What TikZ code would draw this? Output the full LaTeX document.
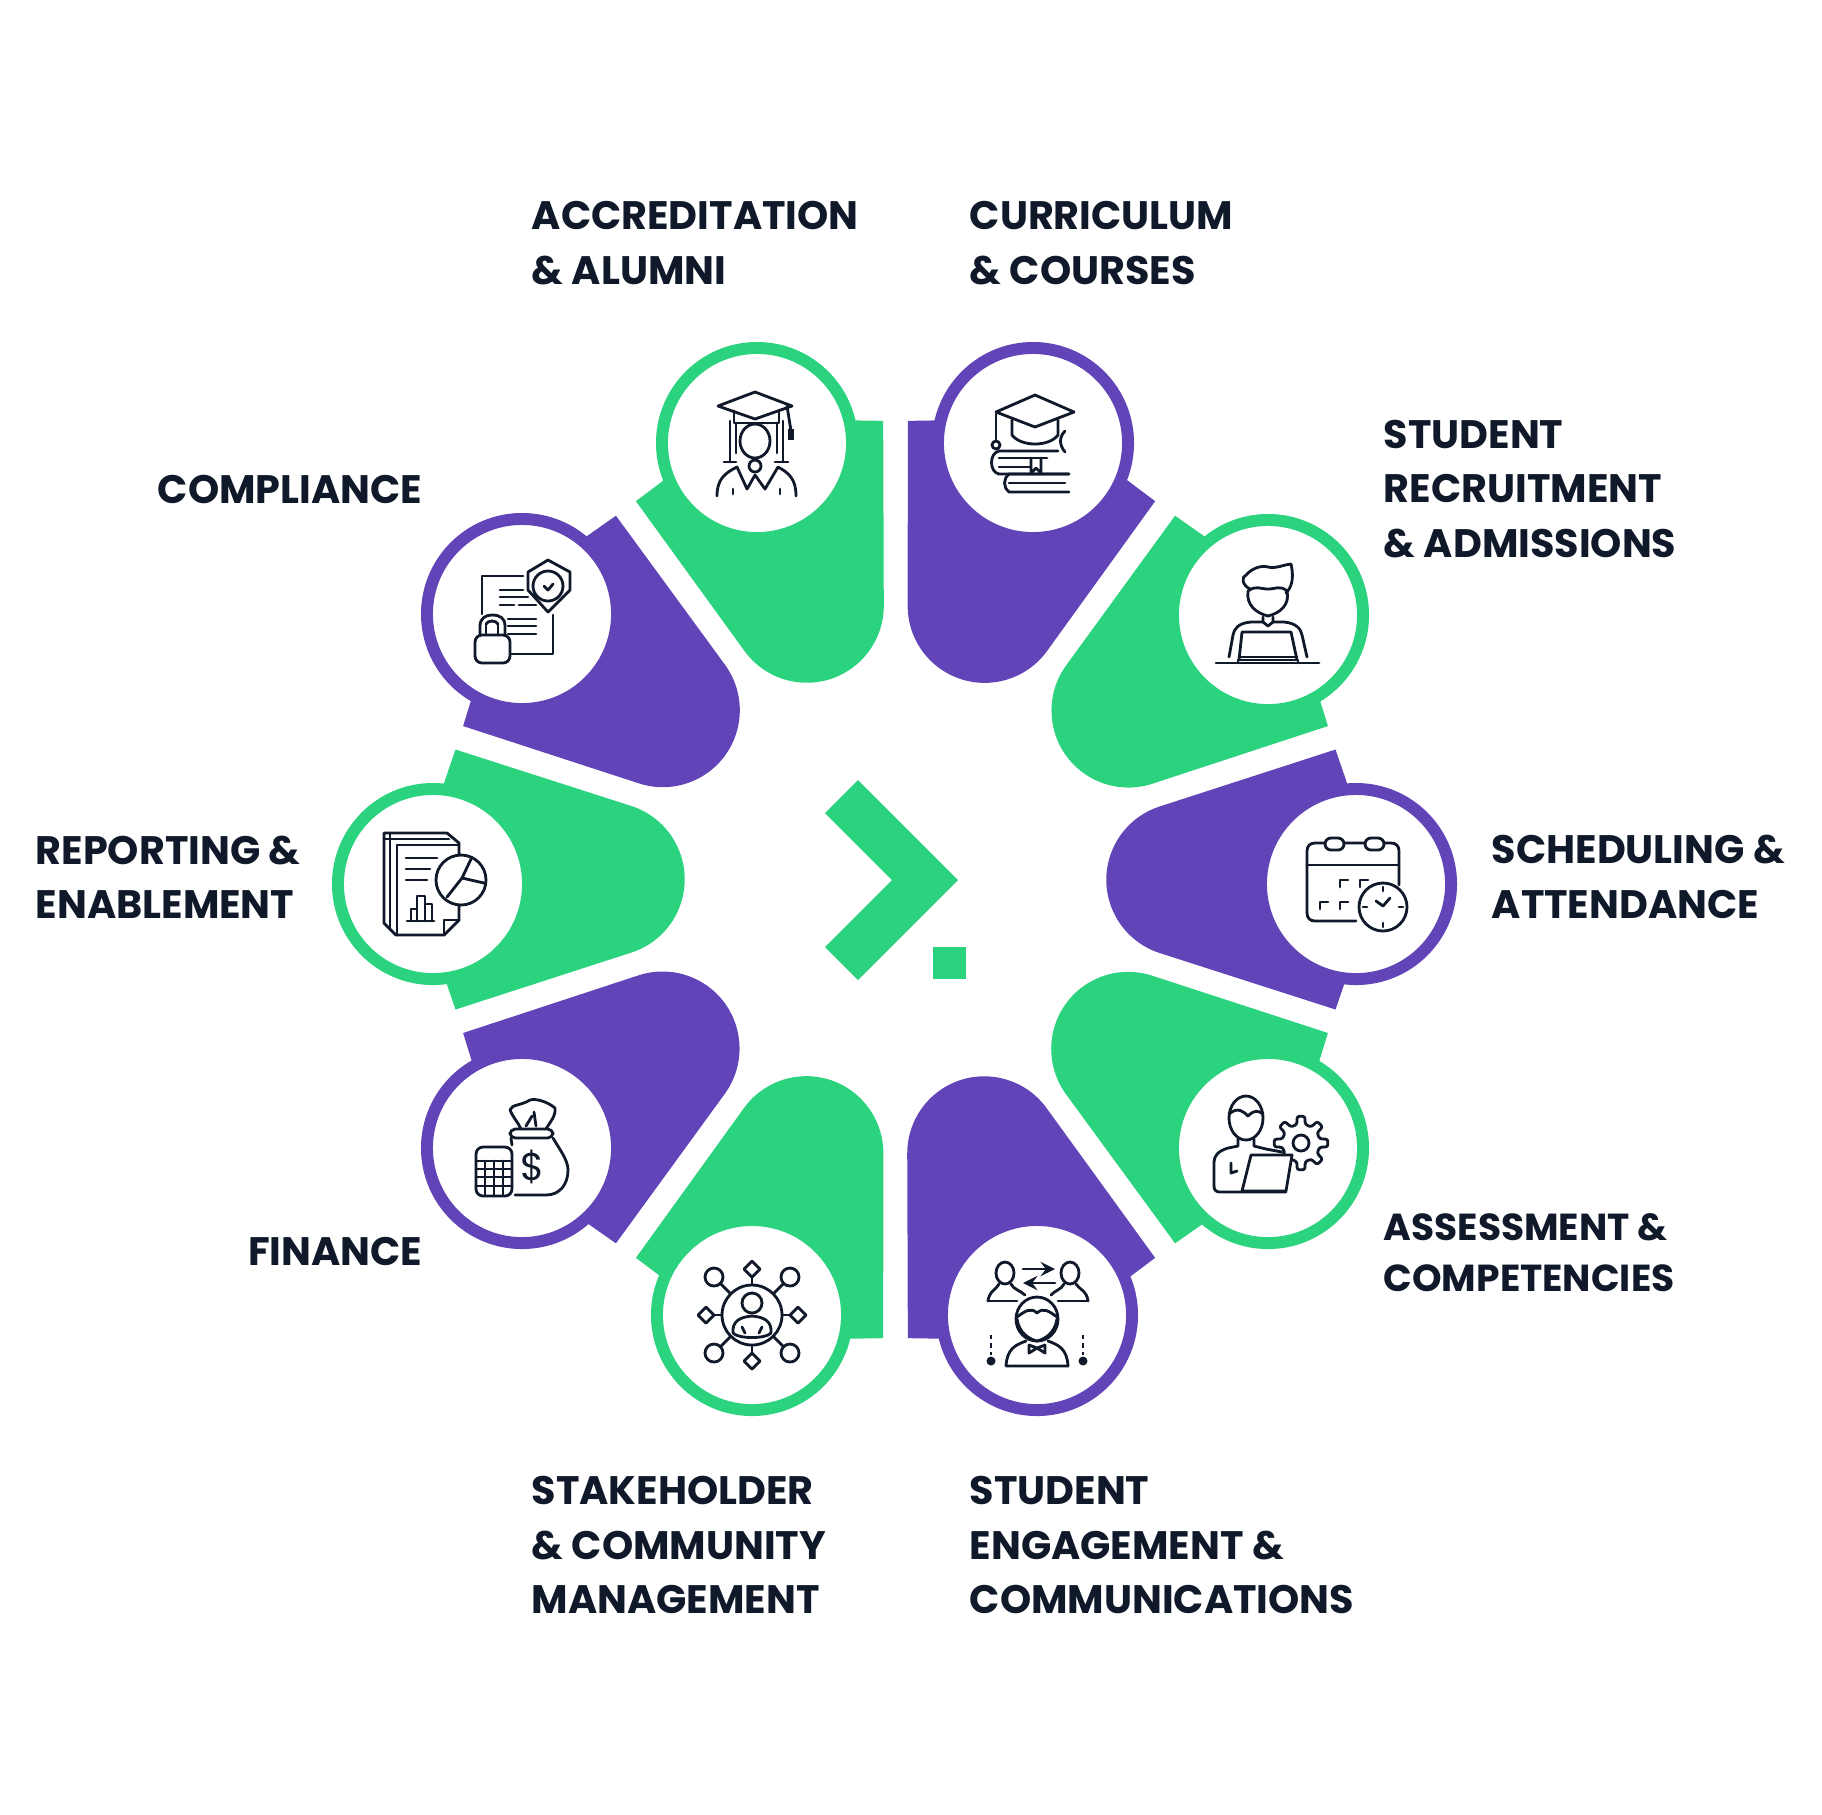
\documentclass[tikz,border=0pt]{standalone}
\usepackage{fontspec}
\setmainfont{Poppins}
\usetikzlibrary{calc}
\definecolor{gpetal}{RGB}{43,211,127}
\definecolor{ppetal}{RGB}{97,69,184}
\definecolor{ink}{RGB}{16,25,42}
\newcommand{\lblsize}{\fontsize{11.3}{15.5}\selectfont\bfseries}
\newcommand{\petal}[2]{\fill[#2,shift={(org)},rotate=#1] (440,130) -- (264,73) arc (108:252:77) -- (440,-130) -- (452,-95) -- (461,0) -- (452,95) -- cycle;}
\tikzset{
  ring/.style={circle,fill=white,line width=3.4pt,minimum size=1.9cm,inner sep=0pt,outer sep=0pt},
  gring/.style={ring,draw=gpetal},
  pring/.style={ring,draw=ppetal},
  lbl/.style={font=\lblsize,align=left,inner sep=0pt,text=ink},
  icon/.style={draw=ink,line width=0.8pt,line join=round,line cap=round},
  logo/.style={fill=gpetal}
}
\begin{document}
\begin{tikzpicture}[x=0.01cm,y=0.01cm]
  \useasboundingbox (0,0) rectangle (1822,-1814);
  \coordinate (org) at (895.5,-879.5);

  \petal{0}{ppetal}
  \petal{36}{gpetal}
  \petal{72}{ppetal}
  \petal{108}{gpetal}
  \petal{144}{ppetal}
  \petal{180}{gpetal}
  \petal{216}{ppetal}
  \petal{252}{gpetal}
  \petal{288}{ppetal}
  \petal{324}{gpetal}

  \node [gring] (acc) at (757,-443) {};
  \node [pring] (cur) at (1033,-443) {};
  \node [gring] (rec) at (1268,-615) {};
  \node [pring] (sch) at (1356,-884) {};
  \node [gring] (ass) at (1268,-1148) {};
  \node [pring] (eng) at (1037,-1315) {};
  \node [gring] (sta) at (752,-1315) {};
  \node [pring] (fin) at (522,-1148) {};
  \node [gring] (rep) at (433,-884) {};
  \node [pring] (com) at (522,-614) {};

  \node [lbl,anchor=west] (l-acc) at (531,-243) {ACCREDITATION\\\& ALUMNI};
  \node [lbl,anchor=west] (l-cur) at (969,-243) {CURRICULUM\\\& COURSES};
  \node [lbl,anchor=west] (l-rec) at (1383,-489) {STUDENT\\RECRUITMENT\\\& ADMISSIONS};
  \node [lbl,anchor=east] (l-com) at (423,-489) {COMPLIANCE};
  \node [lbl,anchor=west] (l-rep) at (35,-877) {REPORTING \&\\ENABLEMENT};
  \node [lbl,anchor=west] (l-sch) at (1491,-877) {SCHEDULING \&\\ATTENDANCE};
  \node [lbl,anchor=west,font=\fontsize{10.7}{14.5}\selectfont\bfseries] (l-ass) at (1383,-1253) {ASSESSMENT \&\\COMPETENCIES};
  \node [lbl,anchor=east] (l-fin) at (423,-1251) {FINANCE};
  \node [lbl,anchor=west] (l-sta) at (531,-1545) {STAKEHOLDER\\\& COMMUNITY\\MANAGEMENT};
  \node [lbl,anchor=west] (l-eng) at (969,-1545) {STUDENT\\ENGAGEMENT \&\\COMMUNICATIONS};

  % logo
  \fill[logo] (858,-780) -- (958,-880) -- (858,-980) -- (825,-947) -- (892,-880) -- (825,-813) -- cycle;
  \fill[logo] (933,-947) rectangle (966,-979);

  % graduate
  \begin{scope}[shift={(acc.center)},icon]
    \draw (-2,51) -- (-39,37) -- (-2,24) -- (35,37) -- cycle;
    \draw (-23,32) -- (-23,20) -- (22,20) -- (22,32);
    \draw (30,37) -- (34,12);
    \fill[ink] (31,14) rectangle (37,3);
    \draw (-27,22) -- (-27,-19) (26,22) -- (26,-19) (-21,20) -- (-21,-10) (20,20) -- (20,-10);
    \draw (-2,2) ellipse (15 and 17);
    \draw (-33,-19) -- (-21,-19) (18,-19) -- (31,-19);
    \draw (-2,-23) circle (6);
    \draw (-40,-53) .. controls (-40,-36) and (-32,-30) .. (-20,-24) -- (-10,-46) -- (-2,-32) -- (8,-46) -- (21,-24) .. controls (32,-30) and (39,-36) .. (39,-53);
    \draw (-24,-46) -- (-24,-51) (23,-46) -- (23,-51);
  \end{scope}

  % books
  \begin{scope}[shift={(cur.center)},icon]
    \draw (2,48) -- (-37,31) -- (2,16) -- (41,31) -- cycle;
    \draw (-21,23) -- (-21,8) .. controls (-12,-4) and (16,-4) .. (25,8) -- (25,23);
    \draw (-37,29) -- (-37,3);
    \draw (-37,-2) circle (4);
    \draw (25,-8) -- (-34,-8) .. controls (-44,-10) and (-44,-29) .. (-34,-31) -- (36,-31);
    \draw (-34,-15) -- (14,-15) (-34,-24) -- (-2,-24);
    \draw (-2,-15) -- (-2,-30) -- (3,-25) -- (8,-30) -- (8,-15);
    \draw (36,-31) -- (-24,-31) .. controls (-30,-36) and (-30,-44) .. (-24,-49) -- (36,-49);
    \draw (-24,-40) -- (32,-40);
    \draw (32,12) .. controls (26,6) and (26,-2) .. (32,-9);
  \end{scope}

  % student with laptop
  \begin{scope}[shift={(rec.center)},icon]
    \draw (-52,-48) -- (51,-48);
    \draw (-18,26) .. controls (-26,30) and (-27,38) .. (-22,40) .. controls (-16,47) and (-6,50) .. (0,48) .. controls (8,46) and (14,50) .. (23,51) .. controls (25,42) and (26,30) .. (18,22);
    \draw (-20,24) .. controls (-22,10) and (-12,2) .. (0,-1) .. controls (12,2) and (22,10) .. (19,24) .. controls (12,30) and (8,26) .. (0,26) .. controls (-8,26) and (-12,30) .. (-20,24);
    \draw (-5,-2) -- (-5,-7) -- (-17,-7) .. controls (-30,-8) and (-34,-14) .. (-35,-20) -- (-39,-42);
    \draw (5,-2) -- (5,-7) -- (16,-7) .. controls (28,-8) and (33,-14) .. (34,-20) -- (39,-42);
    \draw (-5,-7) -- (0,-11) -- (5,-7);
    \draw (-29,-45) -- (-26,-17) -- (23,-17) -- (29,-45);
    \draw (-29,-42) -- (29,-42);
    \draw (-30,-48) -- (-30,-45) -- (30,-45) -- (30,-48);
  \end{scope}

  % calendar
  \begin{scope}[shift={(sch.center)},icon]
    \draw (0,-37) -- (-41,-37) .. controls (-46,-37) and (-49,-34) .. (-49,-29) -- (-49,33) .. controls (-49,38) and (-46,41) .. (-41,41) -- (35,41) .. controls (40,41) and (43,38) .. (43,33) -- (43,-1);
    \draw (-49,19) -- (43,19);
    \draw[fill=white,rounded corners=1.7pt] (-31,46) rectangle (-12,34);
    \draw[fill=white,rounded corners=1.7pt] (9,46) rectangle (28,34);
    \draw (-16,-3) -- (-16,4) -- (-8,4) (4,-3) -- (4,4) -- (12,4);
    \draw (-36,-25) -- (-36,-18) -- (-28,-18) (-16,-25) -- (-16,-18) -- (-8,-18);
    \draw[fill=white] (27,-23) circle (24);
    \draw (20,-17) -- (27,-22) -- (34,-14);
    \draw (27,-3) -- (27,-7) (27,-39) -- (27,-43) (7,-23) -- (11,-23) (43,-23) -- (47,-23);
  \end{scope}

  % person and gear
  \begin{scope}[shift={(ass.center)},icon]
    \begin{scope}[shift={(33,5)},rounded corners=0.6pt]
      \draw (-13:19) -- (-8:27) -- (8:27) -- (13:19) -- (32:19) -- (37:27) -- (53:27) -- (58:19) -- (77:19) -- (82:27) -- (98:27) -- (103:19) -- (122:19) -- (127:27) -- (143:27) -- (148:19) -- (167:19) -- (172:27) -- (188:27) -- (193:19) -- (212:19) -- (217:27) -- (233:27) -- (238:19) -- (257:19) -- (262:27) -- (278:27) -- (283:19) -- (302:19) -- (307:27) -- (323:27) -- (328:19) -- cycle;
    \end{scope}
    \draw (33,5) circle (8);
    \draw (-22,30) ellipse (17 and 22);
    \draw (-39,34) .. controls (-30,42) and (-24,36) .. (-20,32) .. controls (-14,38) and (-10,38) .. (-5,34);
    \draw (-30,9) -- (-30,2) -- (-40,0) .. controls (-50,-3) and (-54,-8) .. (-54,-14) -- (-54,-38) .. controls (-54,-42) and (-52,-44) .. (-48,-44) -- (18,-44);
    \draw (-14,9) -- (-14,2) -- (-2,-1) -- (14,-4);
    \draw (-37,-15) -- (-37,-25) -- (-31,-23);
    \draw[fill=white] (-17,-7) -- (24,-7) -- (18,-43) -- (-26,-43) -- cycle;
  \end{scope}

  % people exchange
  \begin{scope}[shift={(eng.center)},icon]
    \draw (-32,42) ellipse (9 and 11);
    \draw (33,42) ellipse (9 and 11);
    \draw (-49,14) .. controls (-48,24) and (-40,26) .. (-38,31);
    \draw (-26,31) .. controls (-24,26) and (-16,24) .. (-12,20);
    \draw (51,14) .. controls (50,24) and (42,26) .. (39,31);
    \draw (27,31) .. controls (25,26) and (17,24) .. (14,20);
    \draw (-49,14) -- (-20,14) (21,14) -- (51,14);
    \draw[-stealth] (-14,46) -- (18,46);
    \draw[-stealth] (18,32) -- (-14,32);
    \draw[fill=white] (0,-4) ellipse (21 and 22);
    \draw (-20,-2) .. controls (-12,4) and (-6,8) .. (0,2) .. controls (6,8) and (12,4) .. (20,-2);
    \draw (-20,-4) .. controls (-18,-18) and (-8,-24) .. (0,-26) .. controls (8,-24) and (18,-18) .. (20,-4);
    \draw (-31,-51) -- (31,-51) (-31,-51) .. controls (-30,-34) and (-22,-30) .. (-11,-26);
    \draw (31,-51) .. controls (30,-34) and (22,-30) .. (11,-26);
    \draw (-8,-30) -- (-8,-38) -- (0,-33) -- (8,-38) -- (8,-30) -- (0,-33) -- cycle;
    \draw[dash pattern=on 1.2pt off 1.2pt,line cap=butt] (-46,-20) -- (-46,-40) (46,-20) -- (46,-40);
    \fill[ink] (-46,-46) circle (4.5) (46,-46) circle (4.5);
  \end{scope}

  % network
  \begin{scope}[shift={(sta.center)},icon]
    \draw (0,0) circle (30);
    \draw (0,12) circle (10);
    \draw (-19,-18) .. controls (-20,-6) and (-12,-2) .. (0,-1) .. controls (12,-2) and (20,-6) .. (19,-18);
    \draw (-19,-18) .. controls (-14,-24) and (14,-24) .. (19,-18);
    \draw (-10,-12) -- (-7,-18) (10,-12) -- (7,-18);
    \draw (0,30) -- (0,38) (0,-30) -- (0,-38) (30,0) -- (38,0) (-30,0) -- (-38,0);
    \draw (21,21) -- (31,31) (-21,21) -- (-31,31) (21,-21) -- (31,-31) (-21,-21) -- (-31,-31);
    \draw (0,38) -- (8,46) -- (0,54) -- (-8,46) -- cycle;
    \draw (0,-38) -- (8,-46) -- (0,-54) -- (-8,-46) -- cycle;
    \draw (38,0) -- (46,8) -- (54,0) -- (46,-8) -- cycle;
    \draw (-38,0) -- (-46,8) -- (-54,0) -- (-46,-8) -- cycle;
    \draw (38,38) circle (9) (-38,38) circle (9) (38,-38) circle (9) (-38,-38) circle (9);
  \end{scope}

  % money bag
  \begin{scope}[shift={(fin.center)},icon]
    \draw[rounded corners=2pt] (-46,1) rectangle (-10,-48);
    \draw (-46,-13) -- (-10,-13);
    \draw (-46,-21) -- (-10,-21) (-46,-29) -- (-10,-29) (-46,-38) -- (-10,-38);
    \draw (-37,-13) -- (-37,-48) (-28,-13) -- (-28,-48) (-19,-13) -- (-19,-48);
    \draw[rounded corners=1.5pt] (-12,19) rectangle (31,10);
    \draw (-12,38) .. controls (-10,44) and (-2,42) .. (8,48) .. controls (14,50) and (26,46) .. (33,40) .. controls (34,32) and (28,26) .. (24,19);
    \draw (-12,38) .. controls (-10,32) and (-4,26) .. (-1,19);
    \draw (4,22) -- (10,32) (14,22) -- (12,36);
    \draw (31,10) .. controls (38,-2) and (46,-12) .. (46,-22) .. controls (46,-36) and (38,-47) .. (24,-47) -- (-7,-47);
    \draw (-10,3) -- (-11,10);
    \node [text=ink,inner sep=0pt,font=\fontsize{11}{11}\selectfont] (dollar) at (11,-19) {\$};
  \end{scope}

  % reports
  \begin{scope}[shift={(rep.center)},icon]
    \draw (14,51) -- (-49,51) -- (-49,-39) -- (-37,-51) -- (11,-51) -- (26,-36) -- (26,-21);
    \draw (-43,51) -- (-43,-44) (-49,45) -- (16,45);
    \draw (14,51) -- (26,41) -- (26,30);
    \draw (-36,39) -- (26,39) (-36,39) -- (-36,-51);
    \draw (11,-51) -- (11,-36) -- (26,-36);
    \draw (-27,26) -- (4,26) (-27,15) -- (-3,15) (-27,4) -- (-6,4);
    \draw (-26,-37) -- (1,-37);
    \draw (-22,-37) -- (-22,-25) -- (-16,-25) -- (-16,-37);
    \draw (-16,-12) -- (-8,-12) -- (-8,-37) (-16,-25) -- (-16,-12);
    \draw (-8,-20) -- (-1,-20) -- (-1,-37);
    \draw[fill=white] (28,4) circle (25);
    \draw (29,6) -- (39,27) (29,6) -- (51,1) (29,6) -- (14,-13);
  \end{scope}

  % compliance
  \begin{scope}[shift={(com.center)},icon]
    \draw (1,38) -- (-40,38) -- (-40,0);
    \draw (31,-1) -- (31,-40) -- (-12,-40);
    \draw (-22,24) -- (1,24) (-22,17) -- (6,17);
    \draw (-22,9) -- (-8,9) (-3,9) -- (14,9);
    \draw (-14,-5) -- (14,-5) (-14,-12) -- (14,-12) (-14,-20) -- (14,-20);
    \draw[fill=white] (26,54) -- (6,42) -- (6,24) -- (26,2) -- (48,24) -- (48,42) -- cycle;
    \draw (26,28) circle (15);
    \draw (22,28) -- (26,24) -- (31,30);
    \draw[fill=white,rounded corners=2pt] (-47,-21) rectangle (-12,-49);
    \draw (-42,-21) -- (-42,-12) .. controls (-42,-4) and (-36,-1) .. (-30,-1) .. controls (-22,-1) and (-17,-4) .. (-17,-12) -- (-17,-21);
    \draw (-36,-21) -- (-36,-10) (-24,-21) -- (-24,-10);
    \draw (-36,-10) .. controls (-34,-6) and (-26,-6) .. (-24,-10);
  \end{scope}
\end{tikzpicture}
\end{document}
